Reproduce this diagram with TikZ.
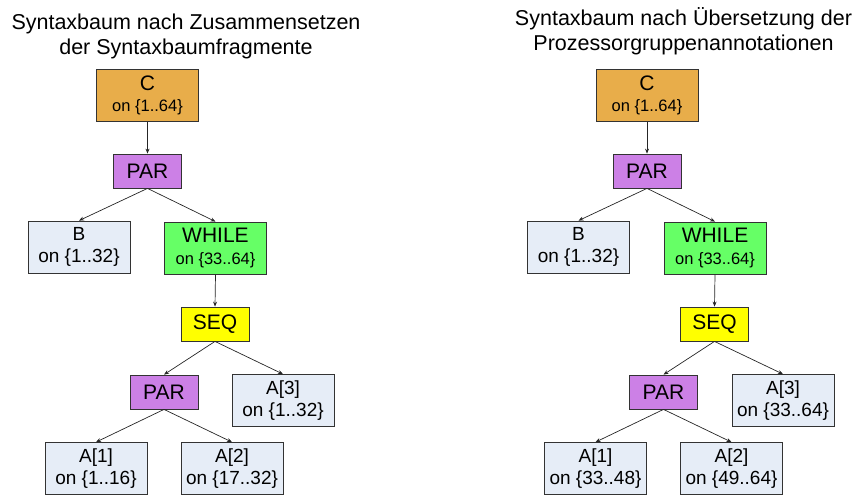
\documentclass[tikz,border=0pt]{standalone}
\usepackage{fontspec}
\setmainfont{Liberation Sans}
\usetikzlibrary{arrows.meta}

\definecolor{corange}{HTML}{E8AD4A}
\definecolor{cpurple}{HTML}{CC80E6}
\definecolor{cgreen}{HTML}{66FF66}
\definecolor{cyellow}{HTML}{FFFF00}
\definecolor{cleaf}{HTML}{E6EDF7}
\definecolor{cborder}{HTML}{333333}

\tikzset{
  box/.style={draw=cborder, line width=0.8pt, inner sep=0pt, align=center},
  bigbox/.style={box, minimum width=102pt, minimum height=52pt},
  smallbox/.style={box, minimum width=68pt, minimum height=34pt, font=\fontsize{21}{22}\selectfont},
  leaf/.style={bigbox, fill=cleaf, font=\fontsize{19}{22}\selectfont},
  title/.style={inner sep=0pt, anchor=base, font=\fontsize{21.5}{25}\selectfont},
  edge/.style={-{Stealth[length=5pt,width=4pt]}, line width=0.7pt, black!85}
}

% smaller second line inside an inner node
\newcommand{\subtext}[1]{{\fontsize{16.5}{21.5}\selectfont #1}}

\begin{document}
\begin{tikzpicture}[x=1pt, y=-1pt]
  \useasboundingbox (0,0) rectangle (853,495);

  % left tree: after assembling the syntax tree fragments
  \node[title] (tl1) at (186,29.3) {Syntaxbaum nach Zusammensetzen};
  \node[title] (tl2) at (186,54.3) {der Syntaxbaumfragmente};

  \node[bigbox, fill=corange, font=\fontsize{21}{21.5}\selectfont] (lC) at (147.5,95.5)
    {C\\\subtext{on \{1..64\}}};
  \node[smallbox, fill=cpurple] (lPar) at (147.5,171) {PAR};
  \node[leaf] (lB) at (79,247) {B\\on \{1..32\}};
  \node[bigbox, fill=cgreen, font=\fontsize{21}{21.5}\selectfont] (lWhile) at (215.5,248)
    {WHILE\\\subtext{on \{33..64\}}};
  \node[smallbox, fill=cyellow] (lSeq) at (215,324) {SEQ};
  \node[smallbox, fill=cpurple] (lPar2) at (164,392) {PAR};
  \node[leaf] (lA3) at (283,400.5) {A[3]\\on \{1..32\}};
  \node[leaf] (lA1) at (96,468.5) {A[1]\\on \{1..16\}};
  \node[leaf] (lA2) at (232,468.5) {A[2]\\on \{17..32\}};

  \draw[edge] (lC.south) -- (lPar.north);
  \draw[edge] (lPar.south) -- (lB.north);
  \draw[edge] (lPar.south) -- (lWhile.north);
  \draw[edge] (lWhile.south) -- (lSeq.north);
  \draw[edge] (lSeq.south) -- (lPar2.north);
  \draw[edge] (lSeq.south) -- (lA3.north);
  \draw[edge] (lPar2.south) -- (lA1.north);
  \draw[edge] (lPar2.south) -- (lA2.north);

  % right tree: after translating the processor group annotations
  \node[title] (tr1) at (683.5,25.3) {Syntaxbaum nach Übersetzung der};
  \node[title] (tr2) at (683.5,50.3) {Prozessorgruppenannotationen};

  \node[bigbox, fill=corange, font=\fontsize{21}{21.5}\selectfont] (rC) at (647,95.5)
    {C\\\subtext{on \{1..64\}}};
  \node[smallbox, fill=cpurple] (rPar) at (647,171) {PAR};
  \node[leaf] (rB) at (578.5,247) {B\\on \{1..32\}};
  \node[bigbox, fill=cgreen, font=\fontsize{21}{21.5}\selectfont] (rWhile) at (715,248)
    {WHILE\\\subtext{on \{33..64\}}};
  \node[smallbox, fill=cyellow] (rSeq) at (714.5,324) {SEQ};
  \node[smallbox, fill=cpurple] (rPar2) at (663.5,392) {PAR};
  \node[leaf] (rA3) at (783,400.5) {A[3]\\on \{33..64\}};
  \node[leaf] (rA1) at (595.5,468.5) {A[1]\\on \{33..48\}};
  \node[leaf] (rA2) at (731.5,468.5) {A[2]\\on \{49..64\}};

  \draw[edge] (rC.south) -- (rPar.north);
  \draw[edge] (rPar.south) -- (rB.north);
  \draw[edge] (rPar.south) -- (rWhile.north);
  \draw[edge] (rWhile.south) -- (rSeq.north);
  \draw[edge] (rSeq.south) -- (rPar2.north);
  \draw[edge] (rSeq.south) -- (rA3.north);
  \draw[edge] (rPar2.south) -- (rA1.north);
  \draw[edge] (rPar2.south) -- (rA2.north);
\end{tikzpicture}
\end{document}
